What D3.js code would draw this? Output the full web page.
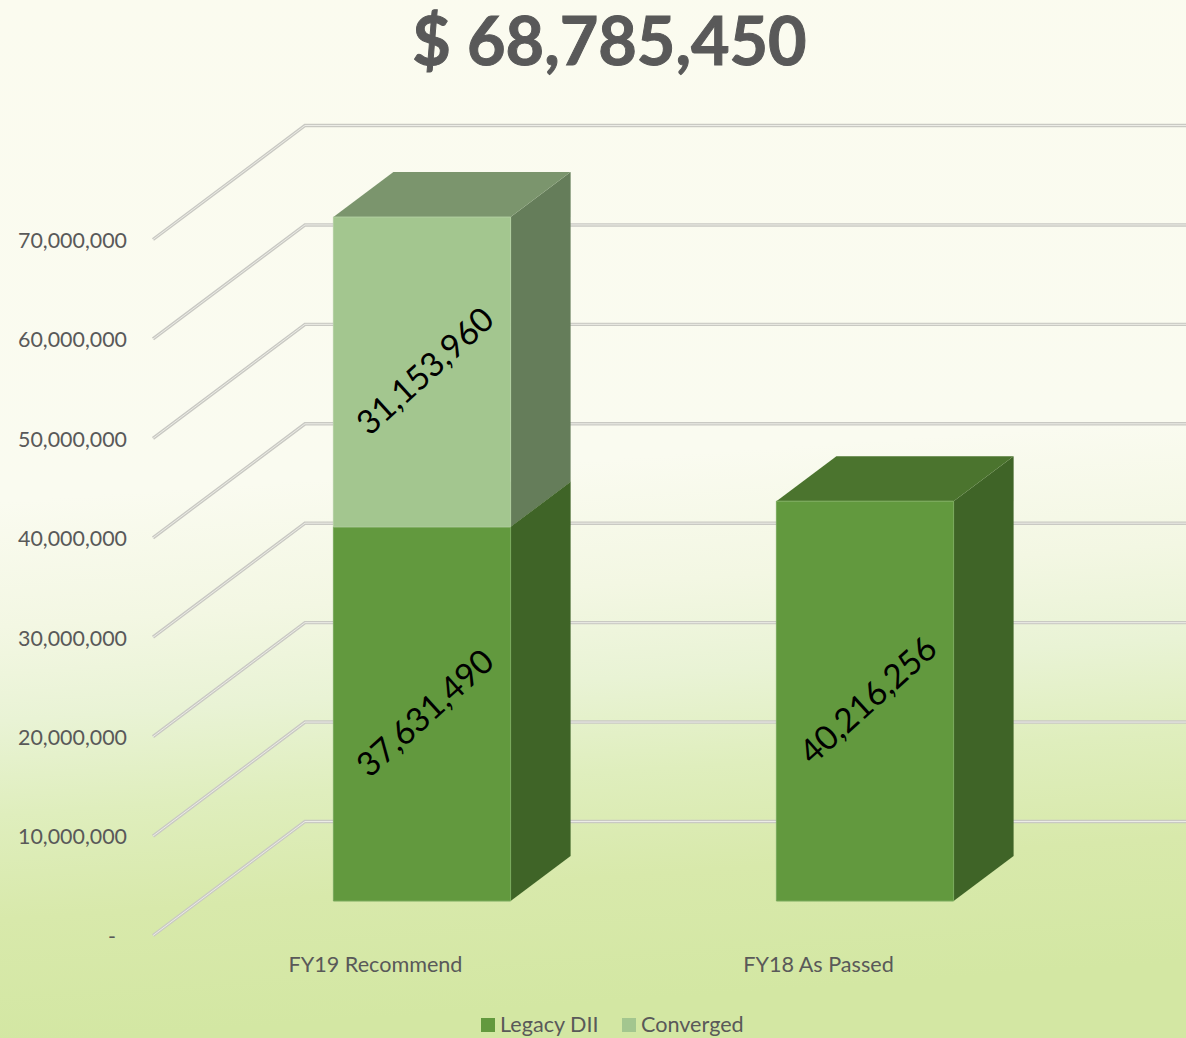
<!DOCTYPE html>
<html>
<head>
<meta charset="utf-8">
<script src="https://cdn.jsdelivr.net/npm/d3@7"></script>
<style>
    html, body { margin: 0; padding: 0; overflow: hidden; }
    svg { display: block; font-family: Lato, sans-serif; }
</style>
</head>
<body>
<div id="chart"></div>
<script>
//Chart values
var titleText = "$ 68,785,450";
var categories = ["FY19 Recommend", "FY18 As Passed"];
var seriesNames = ["Legacy DII", "Converged"];
var legacyValues = [37631490, 40216256];
var convergedValues = [31153960, 0];
var tickValues = [0, 10000000, 20000000, 30000000, 40000000, 50000000, 60000000, 70000000];

var width = 1186, height = 1038;

//Face colours for each series
var faceColors = {
    "Legacy DII": {front: "#62993e", side: "#3f6427", top: "#4b742e", edge: "#79a95c"},
    "Converged": {front: "#a3c68f", side: "#657d5a", top: "#7b956d", edge: "#b2cfa1"}
};

var svg = d3.select("#chart").append("svg")
    .attr("width", width)
    .attr("height", height);

//Background gradient, tilted a little towards the lower right
var grad = svg.append("defs").append("linearGradient")
    .attr("id", "bg")
    .attr("x1", "0").attr("y1", "0")
    .attr("x2", "0.08").attr("y2", "1");
grad.append("stop").attr("offset", "0").attr("stop-color", "#fbfbef");
grad.append("stop").attr("offset", "0.48").attr("stop-color", "#fafbf0");
grad.append("stop").attr("offset", "0.6").attr("stop-color", "#f3f7e3");
grad.append("stop").attr("offset", "0.69").attr("stop-color", "#e9f3d5");
grad.append("stop").attr("offset", "0.78").attr("stop-color", "#dfeebd");
grad.append("stop").attr("offset", "0.88").attr("stop-color", "#d8e9ab");
grad.append("stop").attr("offset", "1").attr("stop-color", "#d3e7a3");

svg.append("rect")
    .attr("width", width)
    .attr("height", height)
    .attr("fill", "url(#bg)");

//Scales
var y = d3.scaleLinear().domain([0, 70000000]).range([935.5, 239.5]);
var x = d3.scaleBand().domain(categories).range([153, 1039]).paddingInner(0.6).paddingOuter(0.3);

//Depth of the floor and of the bars
var wallDx = 152, wallDy = -114;
var barShiftX = 47.5, barShiftY = -34.5;
var barDx = 60, barDy = -45;

//Gridlines: floor edge running back, then along the back wall
function gridPath(d){
    var p = d3.path();
    p.moveTo(153, y(d));
    p.lineTo(153 + wallDx, y(d) + wallDy);
    p.lineTo(width, y(d) + wallDy);
    return p.toString();
}

var grid = svg.append("g").attr("fill", "none");
grid.selectAll(".gridOuter").data(tickValues).enter().append("path")
    .attr("class", "gridOuter")
    .attr("d", gridPath)
    .attr("stroke", "#c9c9c3")
    .attr("stroke-width", 3.4);
grid.selectAll(".gridInner").data(tickValues).enter().append("path")
    .attr("class", "gridInner")
    .attr("d", gridPath)
    .attr("stroke", "#ecece6")
    .attr("stroke-width", 1);

//Stack the series
var rows = categories.map(function(c, i){
    return {category: c, "Legacy DII": legacyValues[i], "Converged": convergedValues[i]};
});
var stacked = d3.stack().keys(seriesNames)(rows);

function poly(points){
    return d3.line()(points) + "Z";
}

var bars = svg.append("g");
stacked.forEach(function(layer){
    var colors = faceColors[layer.key];
    layer.forEach(function(seg){
        if (seg[1] - seg[0] <= 0) { return; }
        var x0 = x(seg.data.category) + barShiftX;
        var x1 = x0 + x.bandwidth();
        var yBase = y(seg[0]) + barShiftY;
        var yTop = y(seg[1]) + barShiftY;
        //right side
        bars.append("path")
            .attr("d", poly([[x1, yBase], [x1 + barDx, yBase + barDy], [x1 + barDx, yTop + barDy], [x1, yTop]]))
            .attr("fill", colors.side);
        //top, redrawn by the next segment when stacked over
        bars.append("path")
            .attr("d", poly([[x0, yTop], [x0 + barDx, yTop + barDy], [x1 + barDx, yTop + barDy], [x1, yTop]]))
            .attr("fill", colors.top);
        //front
        bars.append("path")
            .attr("d", poly([[x0, yBase], [x1, yBase], [x1, yTop], [x0, yTop]]))
            .attr("fill", colors.front)
            .attr("stroke", colors.edge)
            .attr("stroke-width", 1);
    });
});

//Data labels turned along the bar depth
var fmt = d3.format(",");
stacked.forEach(function(layer){
    layer.forEach(function(seg){
        if (seg[1] - seg[0] <= 0) { return; }
        var cx = x(seg.data.category) + barShiftX + x.bandwidth() / 2 + 3;
        var cy = (y(seg[0]) + y(seg[1])) / 2 + barShiftY - 1;
        svg.append("text")
            .attr("transform", "translate(" + cx + "," + cy + ") rotate(-42)")
            .attr("text-anchor", "middle")
            .attr("dy", "0.35em")
            .attr("font-size", 33.5)
            .attr("fill", "#000")
            .text(fmt(seg[1] - seg[0]));
    });
});

//Value axis
var yAxis = d3.axisLeft(y)
    .tickValues(tickValues)
    .tickSize(0)
    .tickPadding(0)
    .tickFormat(function(d){ return d === 0 ? "-" : fmt(d); });
var yAxisG = svg.append("g")
    .attr("transform", "translate(127,1)")
    .call(yAxis);
yAxisG.select(".domain").remove();
yAxisG.selectAll("text")
    .attr("font-family", "Lato, sans-serif")
    .attr("font-size", 21.4)
    .attr("fill", "#595959")
    .attr("dx", function(d){ return d === 0 ? -11 : 0; });

//Category axis
var xAxis = d3.axisBottom(x).tickSize(0).tickPadding(0);
var xAxisG = svg.append("g")
    .attr("transform", "translate(1,957)")
    .call(xAxis);
xAxisG.select(".domain").remove();
xAxisG.selectAll("text")
    .attr("font-family", "Lato, sans-serif")
    .attr("font-size", 21.6)
    .attr("fill", "#595959");

//Title
svg.append("text")
    .attr("x", 609.5)
    .attr("y", 65)
    .attr("text-anchor", "middle")
    .attr("font-size", 66.5)
    .attr("font-weight", 700)
    .attr("fill", "#595959")
    .attr("stroke", "#595959")
    .attr("stroke-width", 1)
    .text(titleText);

//Legend
var legendColor = d3.scaleOrdinal().domain(seriesNames).range([faceColors["Legacy DII"].front, faceColors["Converged"].front]);
var legendX = d3.scaleOrdinal().domain(seriesNames).range([481, 622]);
var legend = svg.append("g").selectAll("g").data(seriesNames).enter().append("g")
    .attr("transform", function(d){ return "translate(" + legendX(d) + ",1018)"; });
legend.append("rect")
    .attr("width", 14)
    .attr("height", 14)
    .attr("fill", function(d){ return legendColor(d); });
legend.append("text")
    .attr("x", 19)
    .attr("y", 14)
    .attr("font-size", 21.6)
    .attr("fill", "#595959")
    .text(function(d){ return d; });
</script>
</body>
</html>
